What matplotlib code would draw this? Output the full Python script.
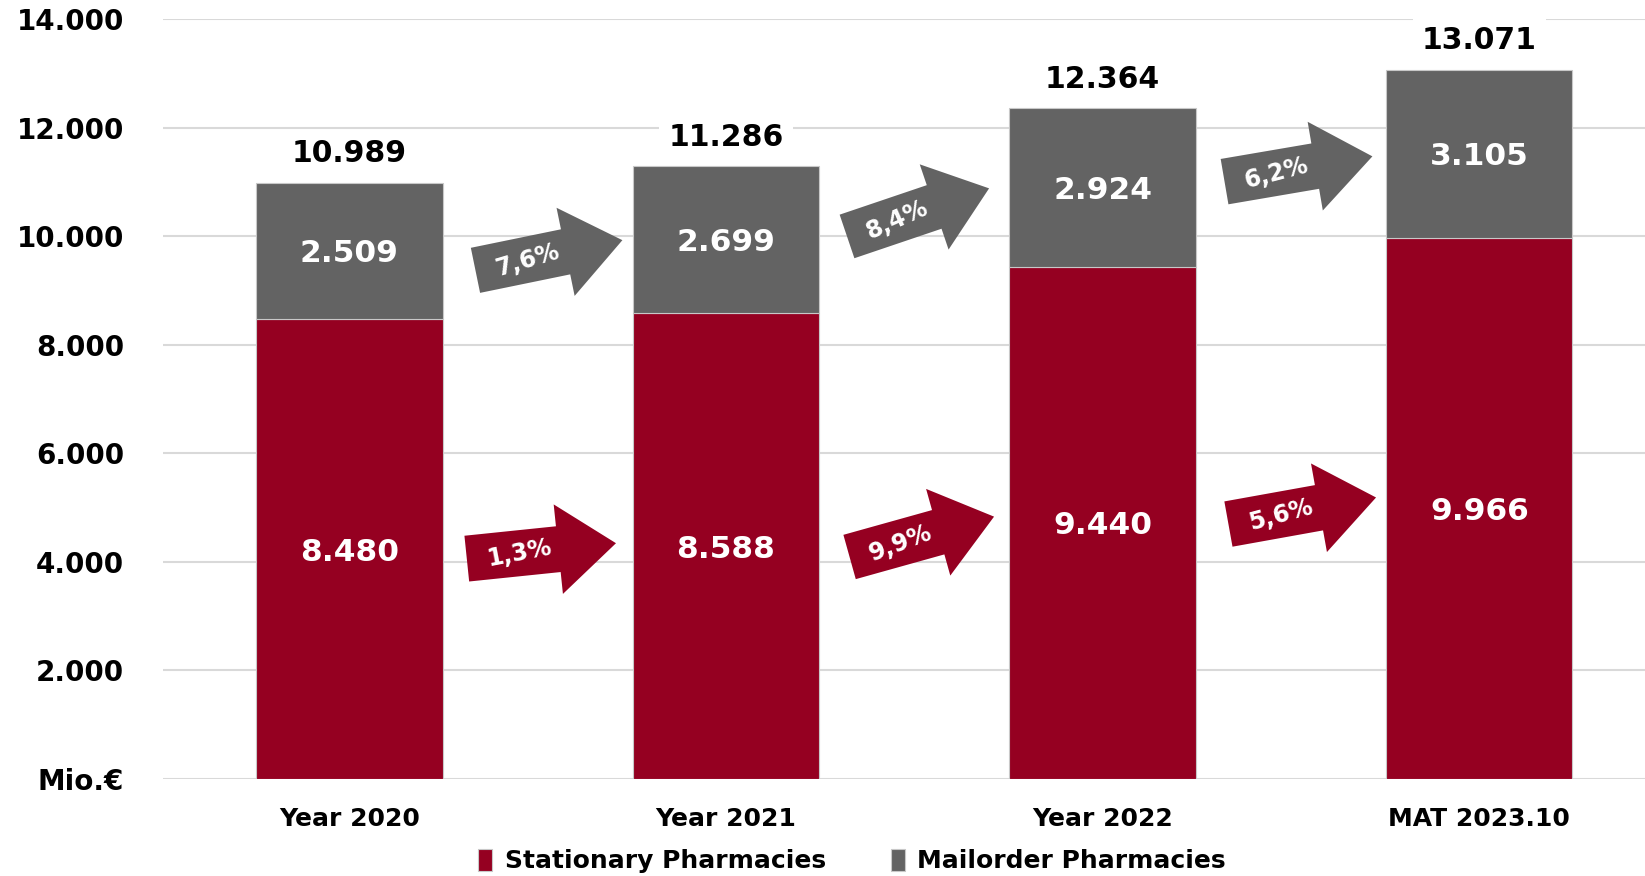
import matplotlib
matplotlib.use("Agg")
import matplotlib.pyplot as plt
import matplotlib.transforms as mtransforms
from matplotlib.patches import Polygon
import numpy as np

# data
periods = ["Year 2020", "Year 2021", "Year 2022", "MAT 2023.10"]
stationary = [8480, 8588, 9440, 9966]
mailorder = [2509, 2699, 2924, 3105]
totals = [10989, 11286, 12364, 13071]
series_names = ["Stationary Pharmacies", "Mailorder Pharmacies"]
growth_stationary = ["1,3%", "9,9%", "5,6%"]
growth_mailorder = ["7,6%", "8,4%", "6,2%"]
yticks = [0, 2000, 4000, 6000, 8000, 10000, 12000, 14000]

RED = "#950021"
GREY = "#636363"


def fmt(v):
    return f"{v:,}".replace(",", ".")


# arrow placement (data x between bars, data y, angle in degrees)
arrow_mail_pos = [(0.53, 9650, 11.6), (1.51, 10440, 18.7), (2.52, 11240, 9.7)]
arrow_stat_pos = [(0.51, 4200, 5.9), (1.52, 4460, 15.6), (2.53, 4940, 10.2)]

fig = plt.figure(figsize=(16.45, 8.76), dpi=100)
ax = fig.add_axes([0.099, 0.111, 0.901, 0.867])

x = np.arange(len(periods))
w = 0.495
ax.bar(x, stationary, w, color=RED, edgecolor="#c8c8c8", linewidth=0.8,
       label=series_names[0], zorder=3)
ax.bar(x, mailorder, w, bottom=stationary, color=GREY, edgecolor="#c8c8c8",
       linewidth=0.8, label=series_names[1], zorder=3)

for i in range(len(periods)):
    ax.text(x[i], stationary[i] / 2 - 60, fmt(stationary[i]), ha="center", va="center",
            color="white", fontsize=22.5, fontweight="bold", zorder=4)
    ax.text(x[i], stationary[i] + mailorder[i] / 2 - 55, fmt(mailorder[i]), ha="center",
            va="center", color="white", fontsize=22.5, fontweight="bold", zorder=4)
    ax.annotate(fmt(totals[i]), (x[i], totals[i]), xytext=(0, 29), textcoords="offset pixels",
                ha="center", va="center", fontsize=21.5, fontweight="bold", color="black",
                bbox=dict(boxstyle="square,pad=0.3", fc="white", ec="none"), zorder=4)


def growth_arrow(xd, yd, ang, label, color):
    # arrow outline in pixels around its centre
    L, bh, hl, hh = 150, 23, 58, 45
    x0 = -L / 2
    xb = x0 + (L - hl)
    pts = np.array([[x0, -bh], [xb, -bh], [xb, -hh], [L / 2, 0],
                    [xb, hh], [xb, bh], [x0, bh]])
    tr = mtransforms.Affine2D().rotate_deg(ang) + mtransforms.ScaledTranslation(xd, yd, ax.transData)
    ax.add_patch(Polygon(pts, closed=True, transform=tr, fc=color, ec="none", zorder=5))
    a = np.deg2rad(ang)
    off = -22
    t = mtransforms.offset_copy(ax.transData, fig, x=off * np.cos(a), y=off * np.sin(a), units="dots")
    ax.text(xd, yd, label, transform=t, rotation=ang + 5, rotation_mode="anchor",
            ha="center", va="center", color="white", fontsize=17, fontweight="bold", zorder=6)


for (xd, yd, ang), lab in zip(arrow_mail_pos, growth_mailorder):
    growth_arrow(xd, yd, ang, lab, GREY)
for (xd, yd, ang), lab in zip(arrow_stat_pos, growth_stationary):
    growth_arrow(xd, yd, ang, lab, RED)

ax.set_xlim(-0.495, 3.44)
ax.set_ylim(0, 14000)
ax.set_yticks(yticks)
ax.set_yticklabels(["Mio.€"] + [fmt(v) for v in yticks[1:]], fontsize=20, fontweight="bold")
ax.set_xticks(x)
ax.set_xticklabels(periods, fontsize=18, fontweight="bold")
ax.tick_params(axis="y", length=0, pad=28)
ax.tick_params(axis="x", length=0, pad=20)
ax.grid(axis="y", color="#d9d9d9", linewidth=1.5, zorder=0)
for s in ax.spines.values():
    s.set_visible(False)

fig.legend(loc="center", bbox_to_anchor=(0.518, 0.017), ncol=2, frameon=False,
           prop=dict(size=18, weight="bold"), handlelength=0.55, handleheight=1.0,
           handletextpad=0.5, columnspacing=2.6)

fig.savefig("out.png", dpi=100)
